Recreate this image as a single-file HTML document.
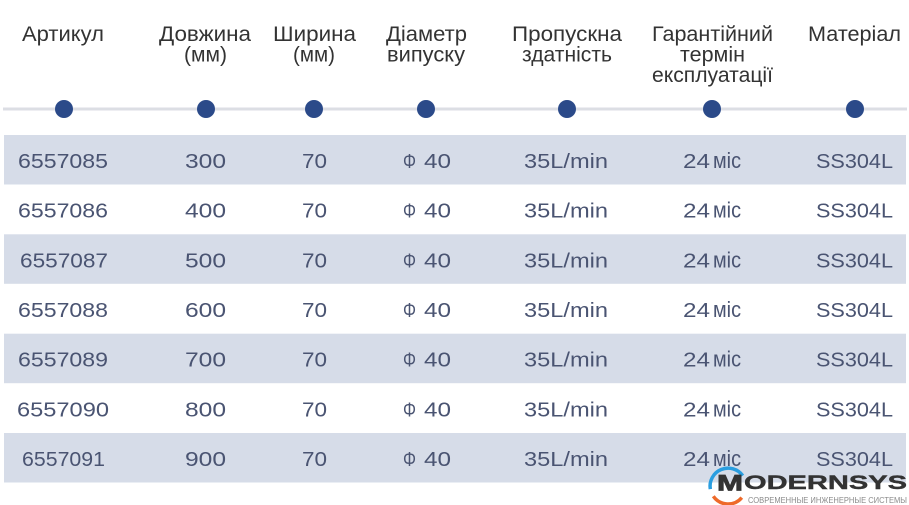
<!DOCTYPE html>
<html><head><meta charset="utf-8"><style>
html,body{margin:0;padding:0;background:#fff;}
svg{display:block;}
</style></head><body>
<svg width="909" height="505" viewBox="0 0 909 505" xmlns="http://www.w3.org/2000/svg">
<rect width="909" height="505" fill="#ffffff"/>
<!-- header -->
<g font-family="'Liberation Sans','Noto Sans CJK SC',sans-serif" font-size="21" fill="#333333" text-anchor="middle">
<text x="63" y="41" textLength="82" lengthAdjust="spacingAndGlyphs">Артикул</text>
<text x="205" y="41" textLength="92" lengthAdjust="spacingAndGlyphs">Довжина</text>
<text x="205.5" y="61.5" textLength="43" lengthAdjust="spacingAndGlyphs">(мм)</text>
<text x="314.5" y="41" textLength="83" lengthAdjust="spacingAndGlyphs">Ширина</text>
<text x="314" y="61.5" textLength="42" lengthAdjust="spacingAndGlyphs">(мм)</text>
<text x="426.5" y="41" textLength="81" lengthAdjust="spacingAndGlyphs">Діаметр</text>
<text x="426" y="61.5" textLength="78" lengthAdjust="spacingAndGlyphs">випуску</text>
<text x="567" y="41" textLength="110" lengthAdjust="spacingAndGlyphs">Пропускна</text>
<text x="567" y="61.5" textLength="90" lengthAdjust="spacingAndGlyphs">здатність</text>
<text x="712.5" y="41" textLength="121" lengthAdjust="spacingAndGlyphs">Гарантійний</text>
<text x="712.5" y="61.5" textLength="65" lengthAdjust="spacingAndGlyphs">термін</text>
<text x="712.5" y="82" textLength="121" lengthAdjust="spacingAndGlyphs">експлуатації</text>
<text x="854.5" y="41" textLength="93" lengthAdjust="spacingAndGlyphs">Матеріал</text>
</g>
<!-- timeline -->
<rect x="3" y="107.5" width="904" height="3" fill="#dcdee4"/>
<g fill="#2b4a89">
<circle cx="64" cy="109" r="9"/>
<circle cx="206" cy="109" r="9"/>
<circle cx="314" cy="109" r="9"/>
<circle cx="426" cy="109" r="9"/>
<circle cx="567" cy="109" r="9"/>
<circle cx="712" cy="109" r="9"/>
<circle cx="855" cy="109" r="9"/>
</g>
<!-- stripes -->
<g fill="#d6dce8">
<rect x="4" y="135" width="902" height="49.5"/>
<rect x="4" y="234.3" width="902" height="49.5"/>
<rect x="4" y="333.7" width="902" height="49.5"/>
<rect x="4" y="433" width="902" height="49.5"/>
</g>
<!-- data -->
<g font-family="'Liberation Sans','Noto Sans CJK SC',sans-serif" font-size="20" fill="#4a5472" text-anchor="middle">
<!-- row1 -->
<text x="63" y="168" textLength="90" lengthAdjust="spacingAndGlyphs">6557085</text>
<text x="205.5" y="168" textLength="41" lengthAdjust="spacingAndGlyphs">300</text>
<text x="314.5" y="168" textLength="25" lengthAdjust="spacingAndGlyphs">70</text>
<text x="409.5" y="168" textLength="13" lengthAdjust="spacingAndGlyphs">Φ</text><text x="437.5" y="168" textLength="27" lengthAdjust="spacingAndGlyphs">40</text>
<text x="566" y="168" textLength="84" lengthAdjust="spacingAndGlyphs">35L/min</text>
<text x="696.5" y="168" textLength="27" lengthAdjust="spacingAndGlyphs">24</text><text x="727" y="168" font-size="22" textLength="28" lengthAdjust="spacingAndGlyphs">міс</text>
<text x="854.5" y="168" textLength="77" lengthAdjust="spacingAndGlyphs">SS304L</text>
<!-- row2 -->
<text x="63" y="217.7" textLength="90" lengthAdjust="spacingAndGlyphs">6557086</text>
<text x="205.5" y="217.7" textLength="41" lengthAdjust="spacingAndGlyphs">400</text>
<text x="314.5" y="217.7" textLength="25" lengthAdjust="spacingAndGlyphs">70</text>
<text x="409.5" y="217.7" textLength="13" lengthAdjust="spacingAndGlyphs">Φ</text><text x="437.5" y="217.7" textLength="27" lengthAdjust="spacingAndGlyphs">40</text>
<text x="566" y="217.7" textLength="84" lengthAdjust="spacingAndGlyphs">35L/min</text>
<text x="696.5" y="217.7" textLength="27" lengthAdjust="spacingAndGlyphs">24</text><text x="727" y="217.7" font-size="22" textLength="28" lengthAdjust="spacingAndGlyphs">міс</text>
<text x="854.5" y="217.7" textLength="77" lengthAdjust="spacingAndGlyphs">SS304L</text>
<!-- row3 -->
<text x="64" y="267.3" textLength="88" lengthAdjust="spacingAndGlyphs">6557087</text>
<text x="205.5" y="267.3" textLength="41" lengthAdjust="spacingAndGlyphs">500</text>
<text x="314.5" y="267.3" textLength="25" lengthAdjust="spacingAndGlyphs">70</text>
<text x="409.5" y="267.3" textLength="13" lengthAdjust="spacingAndGlyphs">Φ</text><text x="437.5" y="267.3" textLength="27" lengthAdjust="spacingAndGlyphs">40</text>
<text x="566" y="267.3" textLength="84" lengthAdjust="spacingAndGlyphs">35L/min</text>
<text x="696.5" y="267.3" textLength="27" lengthAdjust="spacingAndGlyphs">24</text><text x="727" y="267.3" font-size="22" textLength="28" lengthAdjust="spacingAndGlyphs">міс</text>
<text x="854.5" y="267.3" textLength="77" lengthAdjust="spacingAndGlyphs">SS304L</text>
<!-- row4 -->
<text x="63" y="317" textLength="90" lengthAdjust="spacingAndGlyphs">6557088</text>
<text x="205.5" y="317" textLength="41" lengthAdjust="spacingAndGlyphs">600</text>
<text x="314.5" y="317" textLength="25" lengthAdjust="spacingAndGlyphs">70</text>
<text x="409.5" y="317" textLength="13" lengthAdjust="spacingAndGlyphs">Φ</text><text x="437.5" y="317" textLength="27" lengthAdjust="spacingAndGlyphs">40</text>
<text x="566" y="317" textLength="84" lengthAdjust="spacingAndGlyphs">35L/min</text>
<text x="696.5" y="317" textLength="27" lengthAdjust="spacingAndGlyphs">24</text><text x="727" y="317" font-size="22" textLength="28" lengthAdjust="spacingAndGlyphs">міс</text>
<text x="854.5" y="317" textLength="77" lengthAdjust="spacingAndGlyphs">SS304L</text>
<!-- row5 -->
<text x="63" y="366.7" textLength="90" lengthAdjust="spacingAndGlyphs">6557089</text>
<text x="205.5" y="366.7" textLength="41" lengthAdjust="spacingAndGlyphs">700</text>
<text x="314.5" y="366.7" textLength="25" lengthAdjust="spacingAndGlyphs">70</text>
<text x="409.5" y="366.7" textLength="13" lengthAdjust="spacingAndGlyphs">Φ</text><text x="437.5" y="366.7" textLength="27" lengthAdjust="spacingAndGlyphs">40</text>
<text x="566" y="366.7" textLength="84" lengthAdjust="spacingAndGlyphs">35L/min</text>
<text x="696.5" y="366.7" textLength="27" lengthAdjust="spacingAndGlyphs">24</text><text x="727" y="366.7" font-size="22" textLength="28" lengthAdjust="spacingAndGlyphs">міс</text>
<text x="854.5" y="366.7" textLength="77" lengthAdjust="spacingAndGlyphs">SS304L</text>
<!-- row6 -->
<text x="63" y="416.3" textLength="92" lengthAdjust="spacingAndGlyphs">6557090</text>
<text x="205.5" y="416.3" textLength="41" lengthAdjust="spacingAndGlyphs">800</text>
<text x="314.5" y="416.3" textLength="25" lengthAdjust="spacingAndGlyphs">70</text>
<text x="409.5" y="416.3" textLength="13" lengthAdjust="spacingAndGlyphs">Φ</text><text x="437.5" y="416.3" textLength="27" lengthAdjust="spacingAndGlyphs">40</text>
<text x="566" y="416.3" textLength="84" lengthAdjust="spacingAndGlyphs">35L/min</text>
<text x="696.5" y="416.3" textLength="27" lengthAdjust="spacingAndGlyphs">24</text><text x="727" y="416.3" font-size="22" textLength="28" lengthAdjust="spacingAndGlyphs">міс</text>
<text x="854.5" y="416.3" textLength="77" lengthAdjust="spacingAndGlyphs">SS304L</text>
<!-- row7 -->
<text x="63.5" y="466" textLength="83" lengthAdjust="spacingAndGlyphs">6557091</text>
<text x="205.5" y="466" textLength="41" lengthAdjust="spacingAndGlyphs">900</text>
<text x="314.5" y="466" textLength="25" lengthAdjust="spacingAndGlyphs">70</text>
<text x="409.5" y="466" textLength="13" lengthAdjust="spacingAndGlyphs">Φ</text><text x="437.5" y="466" textLength="27" lengthAdjust="spacingAndGlyphs">40</text>
<text x="566" y="466" textLength="84" lengthAdjust="spacingAndGlyphs">35L/min</text>
<text x="696.5" y="466" textLength="27" lengthAdjust="spacingAndGlyphs">24</text><text x="727" y="466" font-size="22" textLength="28" lengthAdjust="spacingAndGlyphs">міс</text>
<text x="854.5" y="466" textLength="77" lengthAdjust="spacingAndGlyphs">SS304L</text>
</g>
<!-- logo -->
<g>
<path d="M 710.3 489.1 A 18 18 0 0 1 742.7 475.7" fill="none" stroke="#2a9ee0" stroke-width="3.5"/>
<path d="M 713.3 496.3 A 18 18 0 0 0 741.8 497.6" fill="none" stroke="#ee6a2a" stroke-width="3.5"/>
<text x="717" y="490.5" font-family="'Liberation Sans',sans-serif" font-weight="bold" font-size="22" fill="#333" stroke="#333" stroke-width="0.8" textLength="26" lengthAdjust="spacingAndGlyphs">M</text>
<text x="744" y="489" font-family="'Liberation Sans',sans-serif" font-weight="bold" font-size="19.5" fill="#333" stroke="#333" stroke-width="0.4" textLength="163" lengthAdjust="spacingAndGlyphs">ODERNSYS</text>
<text x="748" y="503" font-family="'Liberation Sans',sans-serif" font-size="8" fill="#8a8a8a" textLength="159" lengthAdjust="spacingAndGlyphs">СОВРЕМЕННЫЕ ИНЖЕНЕРНЫЕ СИСТЕМЫ</text>
</g>
</svg>
</body></html>
